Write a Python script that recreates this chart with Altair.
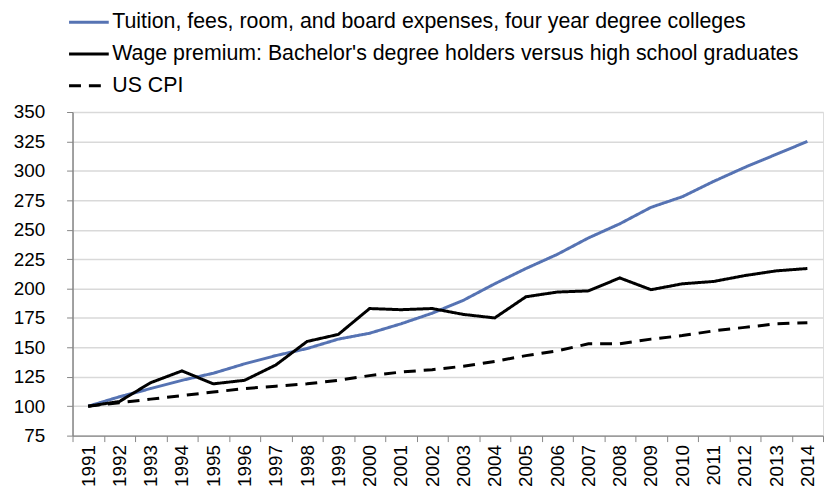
import altair as alt
import pandas as pd

years = [str(y) for y in range(1991, 2015)]
series_names = [
    "Tuition, fees, room, and board expenses, four year degree colleges",
    "Wage premium: Bachelor's degree holders versus high school graduates",
    "US CPI",
]
tuition = [100, 108, 115, 122, 128, 136, 143, 149, 157, 162, 170, 179, 190, 204,
           217, 229, 243, 255, 269, 278, 291, 303, 314, 325]
wage = [100, 104, 120, 130, 119, 122, 135, 155, 161, 183, 182, 183, 178, 175,
        193, 197, 198, 209, 199, 204, 206, 211, 215, 217]
cpi = [100, 103, 106, 109, 112, 115, 117, 119, 122, 126, 129, 131, 134, 138,
       143, 147, 153, 153, 157, 160, 164, 167, 170, 171]

rows = []
for name, vals in zip(series_names, [tuition, wage, cpi]):
    for y, v in zip(years, vals):
        rows.append({"year": y, "value": v, "series": name})
df = pd.DataFrame(rows)

legend = alt.Legend(
    title=None, orient="none", legendX=5, legendY=-102, direction="vertical",
    symbolType="M-2,0H2", symbolSize=400, symbolStrokeWidth=3,
    labelFontSize=21.5, labelFont="Liberation Sans", labelColor="#000000",
    labelLimit=900, rowPadding=10, labelOffset=12,
)

chart = alt.Chart(df).mark_line(strokeWidth=3).encode(
    x=alt.X("year:O",
            scale=alt.Scale(type="band", paddingInner=0, paddingOuter=0),
            bandPosition=0.5,
            axis=alt.Axis(title=None, tickBand="extent", labelAngle=-90,
                          labelFontSize=19, labelFont="Liberation Sans",
                          labelColor="#000000", labelPadding=3,
                          domainColor="#868686", tickColor="#868686",
                          domainWidth=1.5, tickSize=6, grid=False)),
    y=alt.Y("value:Q",
            scale=alt.Scale(domain=[75, 350], nice=False, zero=False),
            axis=alt.Axis(title=None, values=list(range(75, 351, 25)),
                          labelFontSize=19, labelFont="Liberation Sans",
                          labelColor="#000000", labelPadding=22,
                          domainColor="#868686", tickColor="#868686",
                          domainWidth=1.5, tickSize=6,
                          gridColor="#D9D9D9", gridWidth=1.5)),
    color=alt.Color("series:N",
                    scale=alt.Scale(domain=series_names,
                                    range=["#5673B3", "#000000", "#000000"]),
                    legend=legend),
    strokeDash=alt.StrokeDash("series:N",
                              scale=alt.Scale(domain=series_names,
                                              range=[[1, 0], [1, 0], [12, 8]]),
                              legend=legend),
    order=alt.Order("year:O"),
).properties(
    width=756, height=326,
    padding={"left": 5, "top": 1, "right": 0, "bottom": 0},
).configure_view(stroke=None).configure(background="white")

chart.save("out.html", embed_options={"renderer": "svg", "actions": False})
